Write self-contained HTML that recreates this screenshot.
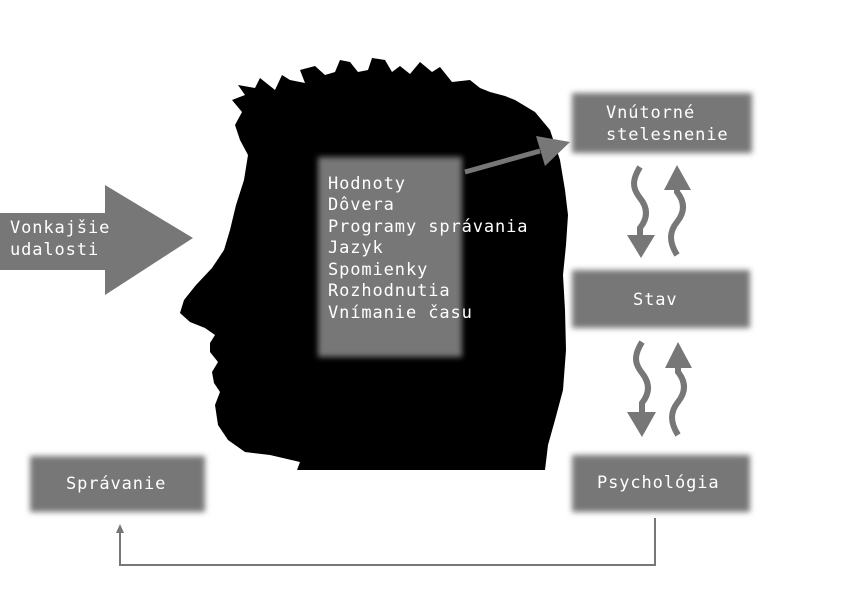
<!DOCTYPE html>
<html><head><meta charset="utf-8"><style>
html,body{margin:0;padding:0;background:#fff;}
svg{display:block;}
text{font-family:"DejaVu Sans Mono","Liberation Mono",monospace;fill:#fff;}
</style></head><body>
<svg width="850" height="600" viewBox="0 0 850 600" xmlns="http://www.w3.org/2000/svg">
<defs>
<filter id="b" x="-10%" y="-20%" width="120%" height="140%"><feGaussianBlur stdDeviation="3"/></filter>
</defs>
<path fill="#000" d="M297,470 L300,462 L270,455 L245,452 L228,440 L218,425 L215,405 L220,392 L214,383 L212,372 L218,362 L210,352 L210,343 L215,335 L205,328 L190,322 L180,313 L184,300 L196,285 L212,268 L224,250 L230,230 L236,205 L244,180 L248,155 L240,140 L235,125 L242,112 L232,100 L245,95 L238,85 L255,88 L260,78 L275,90 L282,75 L290,80 L305,83 L300,70 L315,66 L325,75 L335,72 L340,60 L350,62 L358,72 L368,70 L372,58 L385,60 L392,72 L400,66 L410,74 L420,62 L432,72 L440,67 L452,82 L470,80 L480,88 L490,92 L505,96 L515,100 L535,112 L550,130 L560,160 L565,190 L568,215 L566,245 L563,275 L565,310 L566,350 L563,390 L555,420 L548,445 L545,470 Z"/>
<rect x="318" y="157" width="144" height="200" fill="#777" filter="url(#b)"/>
<g font-size="17" letter-spacing="0.9">
<text x="328" y="189">Hodnoty</text>
<text x="328" y="210">Dôvera</text>
<text x="328" y="232">Programy správania</text>
<text x="328" y="253">Jazyk</text>
<text x="328" y="275">Spomienky</text>
<text x="328" y="296">Rozhodnutia</text>
<text x="328" y="318">Vnímanie času</text>
</g>
<line x1="465" y1="172" x2="540" y2="151" stroke="#777" stroke-width="5"/>
<polygon points="570,142 536,136 545,166" fill="#777"/>
<polygon points="0,213 105,213 105,185 193,238 105,295 105,270 0,270" fill="#777"/>
<g font-size="17" letter-spacing="0.9">
<text x="10" y="233">Vonkajšie</text>
<text x="10" y="255">udalosti</text>
</g>
<rect x="572" y="93" width="180" height="60" fill="#777" filter="url(#b)"/>
<rect x="572" y="270" width="178" height="58" fill="#777" filter="url(#b)"/>
<rect x="572" y="455" width="178" height="57" fill="#777" filter="url(#b)"/>
<rect x="30" y="456" width="175" height="56" fill="#777" filter="url(#b)"/>
<g font-size="17" letter-spacing="0.9">
<text x="606" y="118">Vnútorné</text>
<text x="606" y="140">stelesnenie</text>
<text x="633" y="305">Stav</text>
<text x="597" y="488">Psychológia</text>
<text x="66" y="489">Správanie</text>
</g>
<g fill="none" stroke="#777" stroke-width="6">
<path d="M640,167 C632,180 632,188 640,198 C648,208 648,218 640,228 L640,240"/>
<path d="M677,255 C669,242 669,232 677,222 C685,212 685,202 677,192 L677,185"/>
<path d="M642,342 C634,355 634,363 642,373 C650,383 650,393 642,403 L642,415"/>
<path d="M678,435 C670,422 670,412 678,402 C686,392 686,382 678,372 L678,365"/>
</g>
<g fill="#777">
<polygon points="627,235 655,235 641,258"/>
<polygon points="664,190 691,190 677,165"/>
<polygon points="627,412 656,412 642,437"/>
<polygon points="665,368 692,368 678,342"/>
</g>
<polyline points="655,518 655,565 120,565 120,532" fill="none" stroke="#777" stroke-width="2"/>
<polygon points="116,533 124,533 120,524" fill="#777"/>
</svg>
</body></html>
